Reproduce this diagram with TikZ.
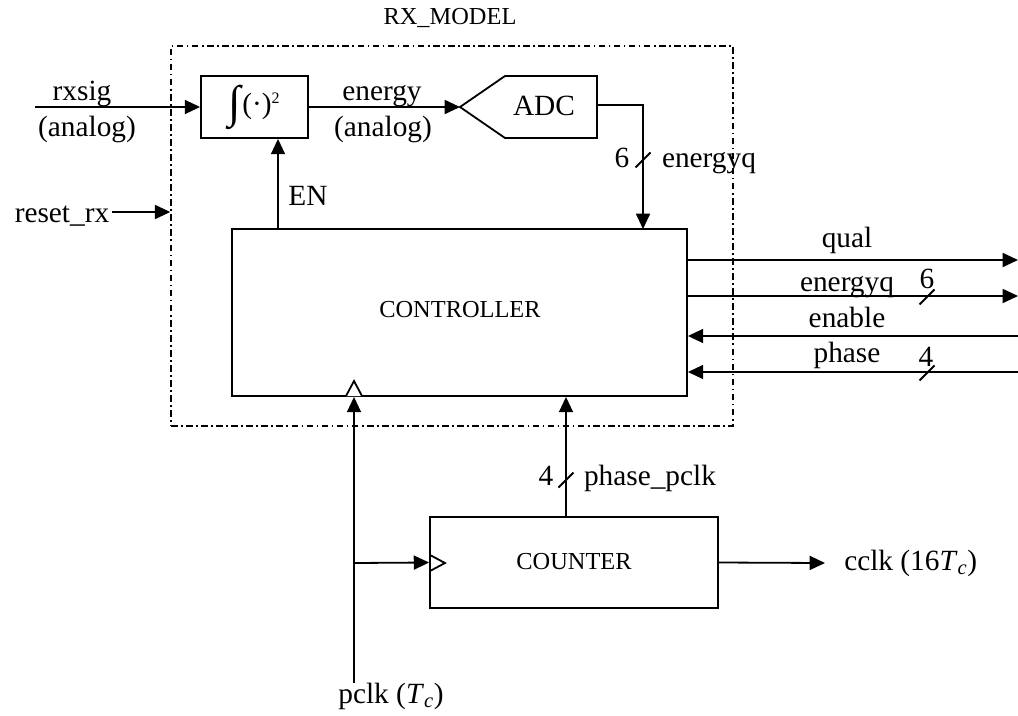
\documentclass[tikz,border=0pt]{standalone}
\usepackage{fontspec}
\setmainfont{Liberation Serif}
\usepackage{tikz}
\usetikzlibrary{arrows.meta,calc,positioning}

\tikzset{
  wire/.style={line width=1.35pt},
  sig/.style={wire,-{Triangle[length=11.5pt,width=10.5pt]}},
  blk/.style={draw,line width=1.35pt,inner sep=0pt},
  lbl/.style={anchor=base,inner sep=0.75pt,font=\fontsize{22}{26}\selectfont},
  smalltext/.style={inner sep=0.75pt,font=\fontsize{18.3}{22}\selectfont},
}
\newcommand{\busmark}[1]{\draw[wire] ($(#1)+(-7.5,7.5)$) -- ($(#1)+(7.5,-7.5)$);}

\begin{document}
\begin{tikzpicture}[x=0.75pt,y=0.75pt,yscale=-1,xscale=1]
\useasboundingbox (0,0) rectangle (1018,715);

% blocks
\draw (452,236) node [draw,line width=1.1pt,dash pattern=on 5pt off 2.5pt on 1.3pt off 2.5pt,minimum width=421.5pt,minimum height=285pt] (rxmodel) {};
\draw (450,24) node [smalltext,anchor=base] (rxlbl) {RX\_MODEL};

\draw (254.5,107) node [blk,minimum width=80.25pt,minimum height=46.5pt,font=\fontsize{22}{26}\selectfont] (integ) {\raisebox{-3pt}{\fontsize{34}{34}\selectfont ∫}\kern1pt(·)\textsuperscript{\fontsize{12}{12}\selectfont 2}};

\draw[wire] (460,107) coordinate (adctip) -- (505,76) -- (597,76) -- (597,138) -- (505,138) -- cycle;
\draw (544,115) node [lbl] (adc) {ADC};
\coordinate (adcout) at (597,105);

\draw (459.5,312.5) node [blk,minimum width=341.25pt,minimum height=125.25pt] (ctrl) {};
\draw (460,310) node [smalltext] (ctrllbl) {CONTROLLER};

\draw (574,562.5) node [blk,minimum width=216pt,minimum height=68.25pt] (counter) {};
\draw (574,562) node [smalltext] (cntlbl) {COUNTER};

% clock inputs
\draw[wire,fill=white] (346,396) -- (354,381) -- (362,396);
\draw[wire] (430,555) -- (445,563) -- (430,571);

% rxsig and energy
\coordinate (rxin) at (35,107);
\draw[sig] (rxin) -- (integ.west);
\draw (82,100) node [lbl] (rxsig) {rxsig};
\draw (87,136) node [lbl] (rxan) {(analog)};

\draw[sig] (integ.east) -- (adctip);
\draw (382,100) node [lbl] (energy) {energy};
\draw (383,136) node [lbl] (enan) {(analog)};

\coordinate (eqin) at (643,229);
\draw[sig] (adcout) -| (eqin);
\busmark{643,160}
\draw (622,167) node [lbl] (eqw) {6};
\draw (709,167) node [lbl] (eq) {energyq};

% EN
\coordinate (enout) at (278,229);
\draw[sig] (enout) -- (enout |- integ.south);
\draw (308,205) node [lbl] (en) {EN};

% reset
\draw (62,222) node [lbl] (rst) {reset\_rx};
\coordinate (rstin) at (112,212);
\draw[sig] (rstin) -- (rstin -| rxmodel.west);

% right side ports
\coordinate (qualend) at (1018,260);
\coordinate (eqend) at (1018,296);
\coordinate (enaend) at (1018,336);
\coordinate (phend) at (1018,372);
\draw[sig] (qualend -| ctrl.east) -- (qualend);
\draw[sig] (eqend -| ctrl.east) -- (eqend);
\draw[sig] (enaend) -- (enaend -| ctrl.east);
\draw[sig] (phend) -- (phend -| ctrl.east);
\busmark{927,297}
\busmark{927,373}
\draw (847,247) node [lbl] (qual) {qual};
\draw (847,291) node [lbl] (eqo) {energyq};
\draw (927,288) node [lbl] (eqow) {6};
\draw (847,327) node [lbl] (ena) {enable};
\draw (847,362) node [lbl] (ph) {phase};
\draw (926,366) node [lbl] (phw) {4};

% clock
\coordinate (pclkin) at (354,683);
\coordinate (tap) at (354,563);
\draw[sig] (pclkin) -- (pclkin |- ctrl.south);
\draw[sig] (tap) -- (counter.west);
\draw (391,703) node [lbl] (pclk) {pclk (\textit{T}\textsubscript{\textit{c}})};

% counter outputs
\coordinate (ppout) at (566,517);
\draw[sig] (ppout) -- (ppout |- ctrl.south);
\busmark{566,480}
\draw (546,485) node [lbl] (ppw) {4};
\draw (650,485) node [lbl] (pp) {phase\_pclk};

\coordinate (cclkend) at (825,563);
\draw[sig] (counter.east) -- (cclkend);
\draw (843,570) node [lbl,anchor=base west] (cclk) {cclk (16\textit{T}\textsubscript{\textit{c}})};

\end{tikzpicture}
\end{document}
